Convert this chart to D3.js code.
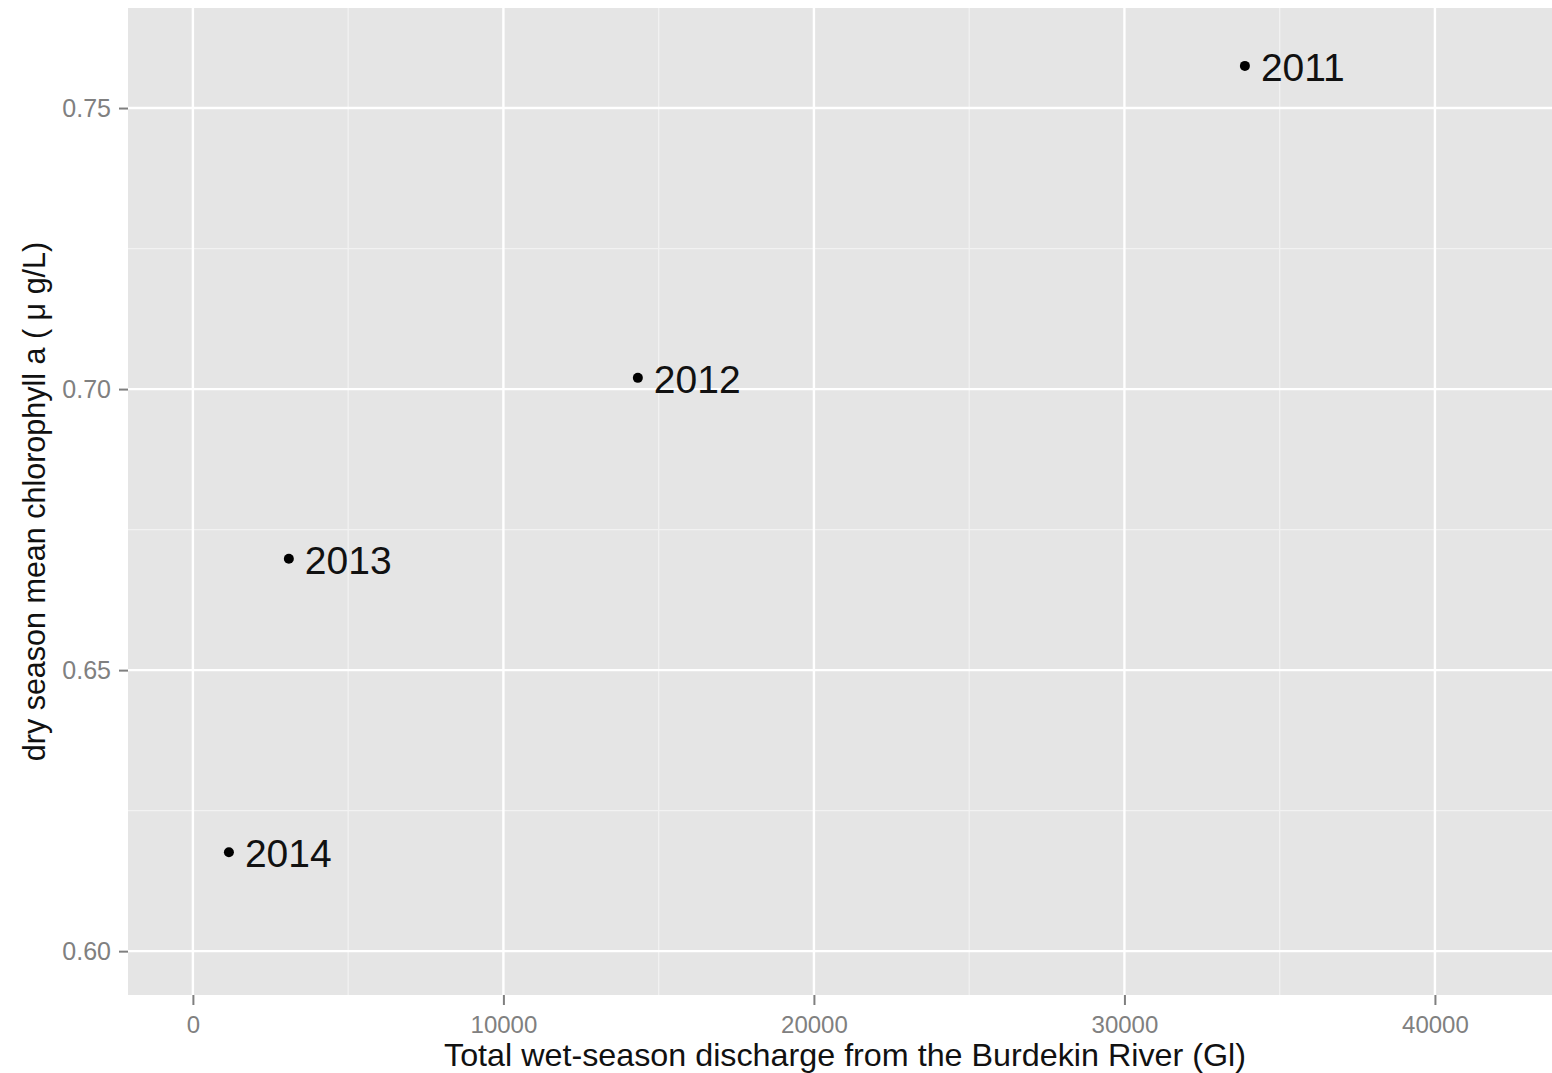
<!DOCTYPE html>
<html><head><meta charset="utf-8">
<script src="https://cdn.jsdelivr.net/npm/d3@7"></script>
<style>body{margin:0;background:#fff}svg{display:block;font-family:"Liberation Sans",Arial,sans-serif}</style>
</head><body><svg id="c" width="1552" height="1073"></svg>
<script>
const years = ["2011","2012","2013","2014"];
const discharge = [33880, 14330, 3090, 1160];
const chlorophyll = [0.7575, 0.702, 0.6698, 0.6176];
const xTicks = [0, 10000, 20000, 30000, 40000];
const xTickLabels = ["0","10000","20000","30000","40000"];
const yTicks = [0.60, 0.65, 0.70, 0.75];
const yTickLabels = ["0.60","0.65","0.70","0.75"];
const xMinor = [5000, 15000, 25000, 35000];
const yMinor = [0.625, 0.675, 0.725];

const svg = d3.select("#c");
const L = 128, R = 1552, T = 8, B = 995;
const x = d3.scaleLinear().domain([-2090, 43770]).range([L, R]);
const y = d3.scaleLinear().domain([0.5922, 0.7678]).range([B, T]);

svg.append("rect").attr("x", L).attr("y", T).attr("width", R - L).attr("height", B - T).attr("fill", "#e5e5e5");

const g = svg.append("g");
g.selectAll(".vmin").data(xMinor).join("line").attr("x1", d => x(d)).attr("x2", d => x(d)).attr("y1", T).attr("y2", B).attr("stroke", "#f2f2f2").attr("stroke-width", 1.2);
g.selectAll(".hmin").data(yMinor).join("line").attr("y1", d => y(d)).attr("y2", d => y(d)).attr("x1", L).attr("x2", R).attr("stroke", "#f2f2f2").attr("stroke-width", 1.2);
g.selectAll(".vmaj").data(xTicks).join("line").attr("x1", d => x(d)).attr("x2", d => x(d)).attr("y1", T).attr("y2", B).attr("stroke", "#fff").attr("stroke-width", 2.4);
g.selectAll(".hmaj").data(yTicks).join("line").attr("y1", d => y(d)).attr("y2", d => y(d)).attr("x1", L).attr("x2", R).attr("stroke", "#fff").attr("stroke-width", 2.4);

// axes
const xAxis = d3.axisBottom(x).tickValues(xTicks).tickFormat((d, i) => xTickLabels[i]).tickSize(10).tickPadding(11);
const xa = svg.append("g").attr("transform", `translate(0,${B})`).call(xAxis);
xa.select(".domain").remove();
xa.selectAll("line").attr("stroke", "#7f7f7f").attr("stroke-width", 2);
xa.selectAll("text").attr("fill", "#808080").attr("font-size", 24).attr("font-family", "Liberation Sans, Arial, sans-serif");

const yAxis = d3.axisLeft(y).tickValues(yTicks).tickFormat((d, i) => yTickLabels[i]).tickSize(9).tickPadding(8);
const ya = svg.append("g").attr("transform", `translate(${L},0)`).call(yAxis);
ya.select(".domain").remove();
ya.selectAll("line").attr("stroke", "#7f7f7f").attr("stroke-width", 2);
ya.selectAll("text").attr("fill", "#808080").attr("font-size", 25).attr("font-family", "Liberation Sans, Arial, sans-serif");

// points and labels
const pts = years.map((yr, i) => ({yr, xv: discharge[i], yv: chlorophyll[i]}));
svg.selectAll(".pt").data(pts).join("circle").attr("cx", d => x(d.xv)).attr("cy", d => y(d.yv)).attr("r", 5).attr("fill", "#000");
svg.selectAll(".lb").data(pts).join("text").attr("x", d => x(d.xv) + 16).attr("y", d => y(d.yv) + 15)
  .attr("font-size", 39).attr("fill", "#111").text(d => d.yr);

// axis titles
svg.append("text").attr("x", 845).attr("y", 1066).attr("text-anchor", "middle").attr("font-size", 30.5).attr("fill", "#111")
  .attr("textLength", 802).attr("lengthAdjust", "spacingAndGlyphs")
  .text("Total wet-season discharge from the Burdekin River (Gl)");
svg.append("text").attr("transform", `translate(45,${(T + B) / 2}) rotate(-90)`).attr("text-anchor", "middle").attr("font-size", 30.5).attr("fill", "#111")
  .text("dry season mean chlorophyll a ( μ g/L)");
</script></body></html>
